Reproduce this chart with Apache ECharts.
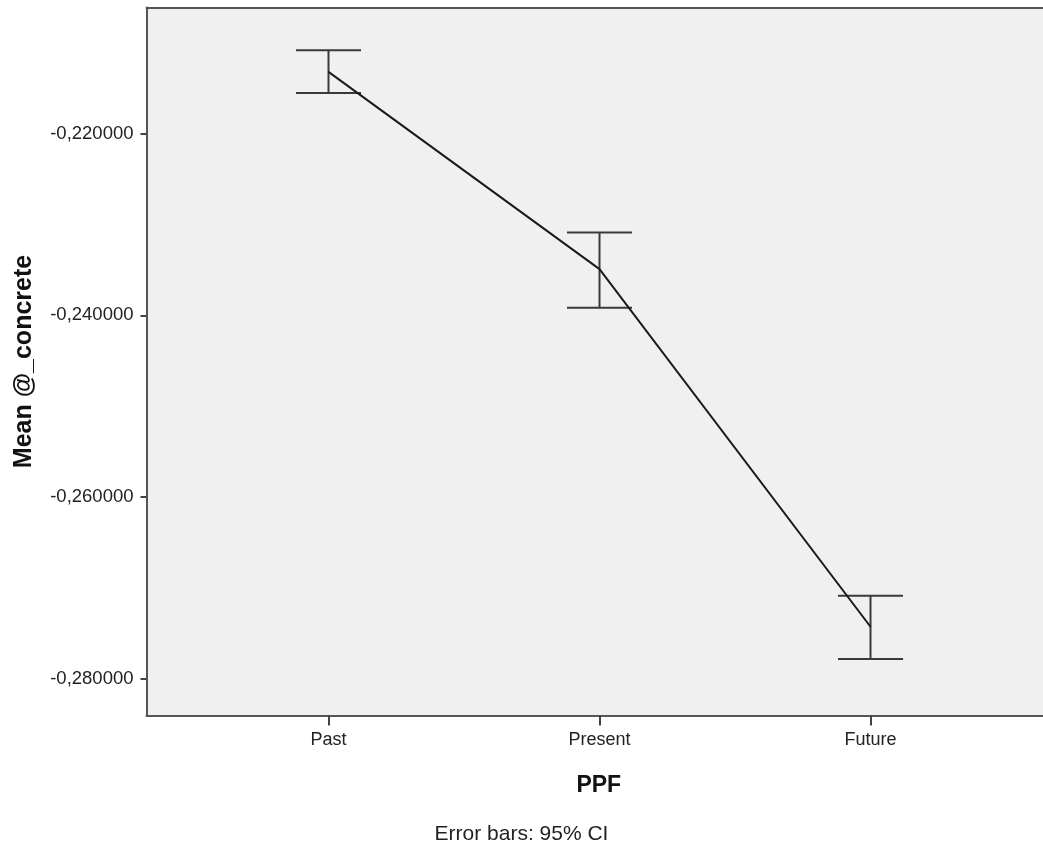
<!DOCTYPE html>
<html>
<head>
<meta charset="utf-8">
<script src="https://cdn.jsdelivr.net/npm/echarts@6/dist/echarts.min.js"></script>
<style>
  html, body { margin: 0; padding: 0; background: #ffffff; }
  #chart { width: 1043px; height: 850px; }
</style>
</head>
<body>
<div id="chart"></div>
<script>
// PPF groups and mean @_concrete with 95% confidence limits
const categories = ['Past', 'Present', 'Future'];
const means = [-0.21323, -0.23492, -0.27425];
const ciUpper = [-0.21084, -0.23089, -0.27084];
const ciLower = [-0.21554, -0.23918, -0.27780];
const yTicks = [-0.28, -0.26, -0.24, -0.22];

const fontFamily = '"Liberation Sans", Arial, sans-serif';
const capHalf = 0.12; // half width of error-bar caps, in category units
const frame = { color: '#555', width: 2 };

const chart = echarts.init(document.getElementById('chart'), null, { renderer: 'canvas' });

const lineData = means.map((m, i) => [i, m]);
const barData = categories.map((c, i) => [i, ciLower[i], ciUpper[i]]);

chart.setOption({
  animation: false,
  backgroundColor: '#ffffff',
  graphic: [{
    type: 'text',
    left: 'center',
    top: 824,
    style: { text: 'Error bars: 95% CI', fill: '#222', font: '21px ' + fontFamily }
  }],
  grid: {
    left: 146.5, top: 7.5, right: 0, bottom: 134.5,
    show: true, backgroundColor: '#f0f0f0', borderWidth: 0
  },
  xAxis: [
    {
      type: 'value',
      position: 'bottom',
      min: -0.6716, max: 2.6365,
      name: 'PPF',
      nameLocation: 'middle',
      nameGap: 59,
      nameTextStyle: { fontFamily, fontWeight: 'bold', fontSize: 23, color: '#111', padding: [0, 0, 0, 8] },
      axisLine: { show: true, onZero: false, lineStyle: frame },
      axisTick: { show: true, length: 10, customValues: [0, 1, 2], lineStyle: { color: '#444', width: 2 } },
      axisLabel: {
        customValues: [0, 1, 2],
        formatter: v => categories[Math.round(v)],
        fontFamily, fontSize: 18, color: '#222', margin: 16
      },
      splitLine: { show: false }
    },
    {
      // top edge of the plot frame
      type: 'value',
      position: 'top',
      min: -0.6716, max: 2.6365,
      axisLine: { show: true, onZero: false, lineStyle: frame },
      axisTick: { show: false },
      axisLabel: { show: false },
      splitLine: { show: false }
    }
  ],
  yAxis: {
    type: 'value',
    min: -0.28401, max: -0.20615,
    name: 'Mean @_concrete',
    nameLocation: 'middle',
    nameGap: 110,
    nameTextStyle: { fontFamily, fontWeight: 'bold', fontSize: 25, color: '#111' },
    axisLine: { show: true, onZero: false, lineStyle: frame },
    axisTick: { show: true, length: 6, customValues: yTicks, lineStyle: { color: '#444', width: 2 } },
    axisLabel: {
      customValues: yTicks,
      formatter: v => v.toFixed(6).replace('.', ','),
      fontFamily, fontSize: 18.5, color: '#222', margin: 13
    },
    splitLine: { show: false }
  },
  series: [
    {
      type: 'custom',
      data: barData,
      z: 2,
      renderItem: (params, api) => {
        const x = api.value(0);
        const lo = api.coord([x, api.value(1)]);
        const hi = api.coord([x, api.value(2)]);
        const l = api.coord([x - capHalf, api.value(1)])[0];
        const r = api.coord([x + capHalf, api.value(1)])[0];
        const style = { stroke: '#3a3a3a', lineWidth: 2 };
        return {
          type: 'group',
          children: [
            { type: 'line', shape: { x1: lo[0], y1: lo[1], x2: hi[0], y2: hi[1] }, style },
            { type: 'line', shape: { x1: l, y1: hi[1], x2: r, y2: hi[1] }, style },
            { type: 'line', shape: { x1: l, y1: lo[1], x2: r, y2: lo[1] }, style }
          ]
        };
      }
    },
    {
      type: 'line',
      data: lineData,
      z: 3,
      symbol: 'none',
      lineStyle: { color: '#1a1a1a', width: 2 }
    }
  ]
});
</script>
</body>
</html>
